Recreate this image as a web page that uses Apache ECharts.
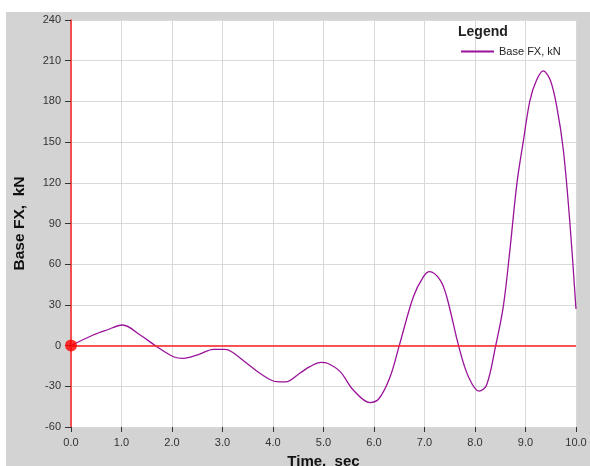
<!DOCTYPE html>
<html><head><meta charset="utf-8">
<script src="https://cdn.jsdelivr.net/npm/echarts@6/dist/echarts.min.js"></script>
<style>html,body{margin:0;padding:0;background:#fff}#c{width:590px;height:466px}</style>
</head><body><div id="c"></div>
<script>
const times = [0.00,0.44,0.71,1.02,1.37,1.70,2.03,2.22,2.55,2.82,3.05,3.18,3.48,3.74,4.07,4.25,4.53,4.73,4.95,5.08,5.33,5.59,5.92,6.10,6.32,6.50,6.78,6.98,7.10,7.31,7.44,7.68,7.87,8.08,8.23,8.41,8.56,8.69,8.83,8.96,9.09,9.22,9.35,9.49,9.62,9.75,9.88,10.0];
const baseFX = [0,7.8,11.5,15.2,7.8,-0.8,-8.2,-9.4,-6.2,-2.8,-2.8,-4.5,-13,-20.4,-26.6,-26.8,-20.4,-15.5,-12.3,-13,-19.2,-32.7,-42,-39,-22.9,0,36,50.8,54.5,48.3,36,-0.8,-22.9,-33.5,-29,0,28.7,70,119.6,151.5,181,195.7,202.5,195.7,176,144,90,27];
const seriesName = 'Base FX, kN';
const xTitle = 'Time,  sec';
const yTitle = 'Base FX,  kN';
const legendTitle = 'Legend';

const chart = echarts.init(document.getElementById('c'), null, {renderer:'canvas'});
const lineData = times.map((t,i)=>[t, baseFX[i]]);
chart.setOption({
  backgroundColor:'#ffffff',
  animation:false,
  title:{text:legendTitle, left:458, top:25, padding:0, textStyle:{fontFamily:'Liberation Sans', fontWeight:'bold', fontSize:14, color:'#222'}},
  graphic:[{type:'rect', z:-100, silent:true, shape:{x:6,y:12,width:584,height:454}, style:{fill:'#d3d3d3'}}],
  legend:{data:[seriesName], left:461, top:46, itemWidth:33, itemHeight:2, icon:'rect', itemGap:6, padding:0,
    textStyle:{fontFamily:'Liberation Sans', fontSize:11, color:'#222'}},
  grid:{left:71, right:14, top:20, bottom:39, show:true, backgroundColor:'#ffffff', borderWidth:0, outerBoundsMode:'none', containLabel:false},
  xAxis:{type:'value', min:0, max:10, interval:1,
    name:xTitle, nameLocation:'middle', nameGap:27,
    nameTextStyle:{fontFamily:'Liberation Sans', fontWeight:'bold', fontSize:15, color:'#111'},
    axisLine:{show:false, onZero:false},
    axisTick:{show:true, length:5, lineStyle:{color:'#333'}},
    axisLabel:{margin:10, color:'#333', fontFamily:'Liberation Sans', fontSize:11, formatter:v=>v.toFixed(1)},
    splitLine:{show:true, lineStyle:{color:'#d9d9d9', width:1}}},
  yAxis:{type:'value', min:-60, max:240, interval:30,
    name:yTitle, nameLocation:'middle', nameGap:43, nameRotate:90,
    nameTextStyle:{fontFamily:'Liberation Sans', fontWeight:'bold', fontSize:15.5, color:'#111'},
    axisLine:{show:true, onZero:false, lineStyle:{color:'#ff2020', width:1.5}},
    axisTick:{show:true, length:6, lineStyle:{color:'#333'}},
    axisLabel:{margin:10, color:'#333', fontFamily:'Liberation Sans', fontSize:11},
    splitLine:{show:true, lineStyle:{color:'#d9d9d9', width:1}}},
  series:[
    {name:seriesName, type:'line', data:lineData, smooth:0.35, symbol:'none', z:3,
      lineStyle:{color:'#9a129a', width:1.3}, itemStyle:{color:'#9a129a'},
      markLine:{silent:true, symbol:'none', label:{show:false}, animation:false,
        lineStyle:{color:'#ff2020', width:1.5, type:'solid'}, data:[{yAxis:0}]}},
    {name:'origin', type:'scatter', data:[[times[0], baseFX[0]]], symbolSize:12, z:5,
      itemStyle:{color:'#ff0000'}}
  ]
});
</script></body></html>
